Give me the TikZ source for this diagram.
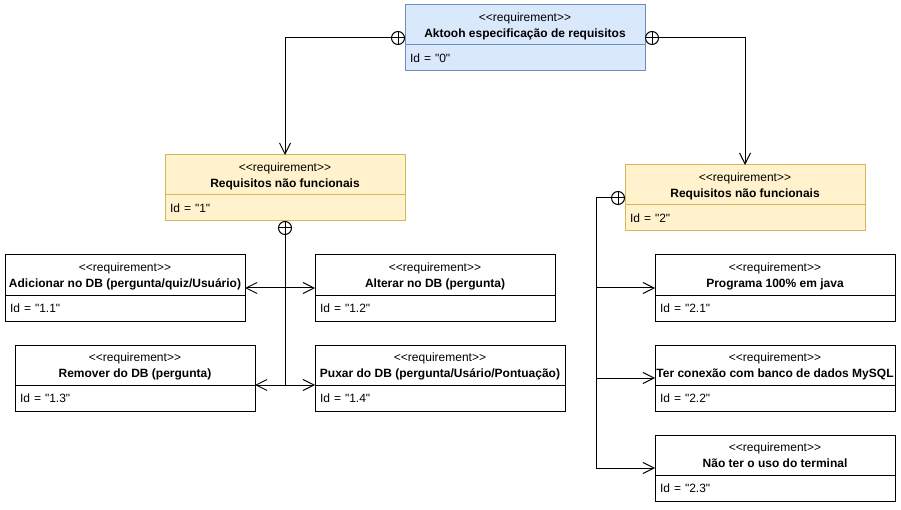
\documentclass[tikz,border=0pt]{standalone}
\usepackage{fontspec}
\setmainfont{Liberation Sans}
\usepackage{xcolor}
\usetikzlibrary{positioning,arrows.meta}
\definecolor{reqblue}{HTML}{DAE8FC}
\definecolor{reqblueline}{HTML}{6C8EBF}
\definecolor{reqyellow}{HTML}{FFF2CC}
\definecolor{reqyellowline}{HTML}{D6B656}
\tikzset{
  reqhead/.style={draw, line width=1pt, minimum width=#1, minimum height=40pt, inner sep=0pt, outer sep=0pt},
  reqhead/.default=240pt,
  reqbody/.style={draw, line width=1pt, text width=#1, minimum height=26pt, inner xsep=5pt, inner ysep=0pt, outer sep=0pt, align=left, font=\fontsize{12}{14}\selectfont},
  reqbody/.default=230pt,
  bluereq/.style={fill=reqblue, draw=reqblueline},
  yellowreq/.style={fill=reqyellow, draw=reqyellowline},
  stereo/.style={anchor=base, inner sep=0pt, font=\fontsize{12}{14}\selectfont},
  reqtitle/.style={anchor=base, inner sep=0pt, font=\fontsize{12}{14}\selectfont\bfseries},
  cplus/.style={circle, draw, line width=1pt, fill=white, minimum size=13pt, inner sep=0pt,
    path picture={\draw[line width=1pt] (path picture bounding box.north) -- (path picture bounding box.south)
      (path picture bounding box.west) -- (path picture bounding box.east);}},
  reqarrow/.style={line width=1pt, -{Straight Barb[length=11pt,width=11pt]}}
}
\newcommand{\stereotxt}{\textless\kern0pt\textless requirement\textgreater\kern0pt\textgreater}
\newcommand{\reqid}[1]{Id = \textquotedbl#1\textquotedbl}
\begin{document}
\begin{tikzpicture}[x=1pt, y=-1pt]
  \useasboundingbox (0,0) rectangle (901,510);
  \node[reqhead, bluereq] (r0) at (525,25) {};
  \node[reqbody, bluereq, below=0pt of r0] (r0id) {\reqid{0}};
  \node[stereo] (r0s) at ([yshift=-16.5pt]r0.north) {\stereotxt};
  \node[reqtitle] (r0t) at ([yshift=-32.5pt]r0.north) {Aktooh especificação de requisitos};

  \node[reqhead, yellowreq] (r1) at (285,175) {};
  \node[reqbody, yellowreq, below=0pt of r1] (r1id) {\reqid{1}};
  \node[stereo] (r1s) at ([yshift=-16.5pt]r1.north) {\stereotxt};
  \node[reqtitle] (r1t) at ([yshift=-32.5pt]r1.north) {Requisitos não funcionais};

  \node[reqhead, yellowreq] (r2) at (745,185) {};
  \node[reqbody, yellowreq, below=0pt of r2] (r2id) {\reqid{2}};
  \node[stereo] (r2s) at ([yshift=-16.5pt]r2.north) {\stereotxt};
  \node[reqtitle] (r2t) at ([yshift=-32.5pt]r2.north) {Requisitos não funcionais};

  \node[reqhead] (r11) at (125,275) {};
  \node[reqbody, below=0pt of r11] (r11id) {\reqid{1.1}};
  \node[stereo] (r11s) at ([yshift=-16.5pt]r11.north) {\stereotxt};
  \node[reqtitle] (r11t) at ([yshift=-32.5pt]r11.north) {Adicionar no DB (pergunta/quiz/Usuário)};

  \node[reqhead] (r12) at (435,275) {};
  \node[reqbody, below=0pt of r12] (r12id) {\reqid{1.2}};
  \node[stereo] (r12s) at ([yshift=-16.5pt]r12.north) {\stereotxt};
  \node[reqtitle] (r12t) at ([yshift=-32.5pt]r12.north) {Alterar no DB (pergunta)};

  \node[reqhead] (r13) at (135,365) {};
  \node[reqbody, below=0pt of r13] (r13id) {\reqid{1.3}};
  \node[stereo] (r13s) at ([yshift=-16.5pt]r13.north) {\stereotxt};
  \node[reqtitle] (r13t) at ([yshift=-32.5pt]r13.north) {Remover do DB (pergunta)};

  \node[reqhead=250pt] (r14) at (440,365) {};
  \node[reqbody=240pt, below=0pt of r14] (r14id) {\reqid{1.4}};
  \node[stereo] (r14s) at ([yshift=-16.5pt]r14.north) {\stereotxt};
  \node[reqtitle] (r14t) at ([yshift=-32.5pt]r14.north) {Puxar do DB (pergunta/Usário/Pontuação)};

  \node[reqhead] (r21) at (775,275) {};
  \node[reqbody, below=0pt of r21] (r21id) {\reqid{2.1}};
  \node[stereo] (r21s) at ([yshift=-16.5pt]r21.north) {\stereotxt};
  \node[reqtitle] (r21t) at ([yshift=-32.5pt]r21.north) {Programa 100\% em java};

  \node[reqhead] (r22) at (775,365) {};
  \node[reqbody, below=0pt of r22] (r22id) {\reqid{2.2}};
  \node[stereo] (r22s) at ([yshift=-16.5pt]r22.north) {\stereotxt};
  \node[reqtitle] (r22t) at ([yshift=-32.5pt]r22.north) {Ter conexão com banco de dados MySQL};

  \node[reqhead] (r23) at (775,455) {};
  \node[reqbody, below=0pt of r23] (r23id) {\reqid{2.3}};
  \node[stereo] (r23s) at ([yshift=-16.5pt]r23.north) {\stereotxt};
  \node[reqtitle] (r23t) at ([yshift=-32.5pt]r23.north) {Não ter o uso do terminal};

  \node[cplus] (c0l) at (398,38) {};
  \node[cplus] (c0r) at (652,38) {};
  \node[cplus] (c1) at (285,228) {};
  \node[cplus] (c2) at (618,198) {};
  \coordinate (spine) at (596,198);

  \draw[reqarrow] (c0l.west) -| (r1.north);
  \draw[reqarrow] (c0r.east) -| (r2.north);
  \draw[reqarrow] (c1.south) |- ([yshift=7pt]r11.south east);
  \draw[reqarrow] (c1.south) |- ([yshift=7pt]r12.south west);
  \draw[reqarrow] (c1.south) |- (r13.south east);
  \draw[reqarrow] (c1.south) |- (r14.south west);
  \draw[reqarrow] (c2.west) -- (spine) |- ([yshift=7pt]r21.south west);
  \draw[reqarrow] (spine) |- ([yshift=7pt]r22.south west);
  \draw[reqarrow] (spine) |- ([yshift=7pt]r23.south west);
\end{tikzpicture}
\end{document}
